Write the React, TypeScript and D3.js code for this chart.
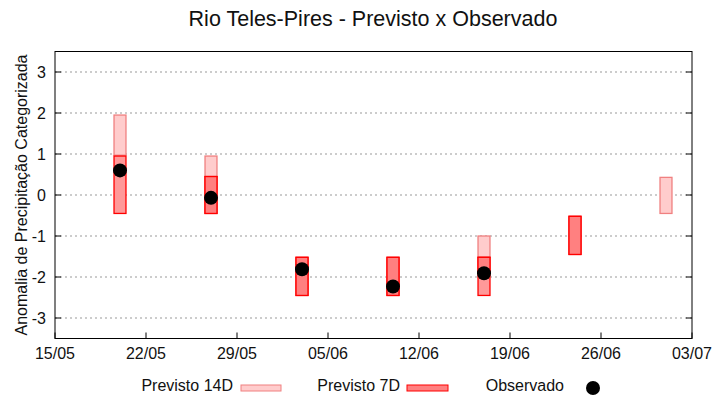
import React from "react";
import * as d3 from "d3";

const title = "Rio Teles-Pires - Previsto x Observado";
const yLabel = "Anomalia de Precipitação Categorizada";
const xTickLabels = ["15/05", "22/05", "29/05", "05/06", "12/06", "19/06", "26/06", "03/07"];
const yTicks = [-3, -2, -1, 0, 1, 2, 3];

// 14-day forecast boxes
const p14Dates = ["20/05", "27/05", "17/06", "01/07"];
const p14Lo = [0.97, 0.45, -1.52, -0.45];
const p14Hi = [1.95, 0.95, -1.0, 0.43];

// 7-day forecast boxes (first issue)
const p7Dates = ["20/05", "27/05", "03/06", "10/06", "17/06", "24/06"];
const p7Lo = [-0.45, -0.45, -2.45, -2.45, -2.45, -1.45];
const p7Hi = [0.95, 0.45, -1.52, -1.52, -1.52, -0.52];

// 7-day forecast boxes (update, overlapping)
const p7uDates = ["27/05", "03/06", "10/06", "17/06", "24/06"];
const p7uLo = [-0.45, -2.45, -2.45, -1.9, -1.45];
const p7uHi = [0.45, -1.52, -1.52, -1.52, -0.52];

// Observed
const obsDates = ["20/05", "27/05", "03/06", "10/06", "17/06"];
const obsVals = [0.6, -0.07, -1.81, -2.23, -1.91];

const W = 720;
const H = 400;
const L = 55, R = 692, T = 51.5, B = 338.5;
const FONT = "'Liberation Sans', Arial, sans-serif";

const YEAR = "2024";
const parse = (s: string) => d3.timeParse("%d/%m/%Y")(s + "/" + YEAR) as Date;

export default function App() {
  const x = d3.scaleTime().domain([parse(xTickLabels[0]), parse(xTickLabels[xTickLabels.length - 1])]).range([L, R]);
  const y = d3.scaleLinear().domain([-3.5, 3.5]).range([B, T]);
  const dayPx = x(parse("02/06")) - x(parse("01/06"));
  const bw = dayPx * 0.92;

  const box = (d: string, lo: number, hi: number, fill: string, stroke: string, key: string) => {
    const cx = x(parse(d));
    return (
      <rect key={key} x={cx - bw / 2} y={y(hi)} width={bw} height={y(lo) - y(hi)} fill={fill} stroke={stroke} strokeWidth={1.3} />
    );
  };

  return (
    <svg width={W} height={H} style={{ position: "absolute", left: 0, top: 0, background: "#fff" }} fontFamily={FONT}>
      <rect x={0} y={0} width={W} height={H} fill="#fff" />
      <text x={373} y={26} textAnchor="middle" fontSize={21.5} fill="#111">{title}</text>
      {yTicks.map((t) => (
        <g key={"yt" + t}>
          <line x1={L} x2={R} y1={y(t)} y2={y(t)} stroke="#999" strokeWidth={1} strokeDasharray="2,3" />
          <line x1={L} x2={L + 6} y1={y(t)} y2={y(t)} stroke="#000" />
          <line x1={R - 6} x2={R} y1={y(t)} y2={y(t)} stroke="#000" />
          <text x={L - 9} y={y(t) + 5.5} textAnchor="end" fontSize={16} fill="#111">{t}</text>
        </g>
      ))}
      {xTickLabels.map((lbl) => {
        const px = x(parse(lbl));
        return (
          <g key={"xt" + lbl}>
            <line x1={px} x2={px} y1={B} y2={B - 6} stroke="#000" />
            <text x={px} y={B + 20} textAnchor="middle" fontSize={16} fill="#111">{lbl}</text>
          </g>
        );
      })}
      <text transform={`translate(27,${(T + B) / 2}) rotate(-90)`} textAnchor="middle" fontSize={16} fill="#111">{yLabel}</text>
      {p14Dates.map((d, i) => box(d, p14Lo[i], p14Hi[i], "#ffcccc", "#f08080", "p14" + i))}
      {p7Dates.map((d, i) => box(d, p7Lo[i], p7Hi[i], "#ff9999", "#ff0000", "p7" + i))}
      {p7uDates.map((d, i) => box(d, p7uLo[i], p7uHi[i], "#ff8080", "#ff0000", "p7u" + i))}
      {obsDates.map((d, i) => (
        <circle key={"o" + i} cx={x(parse(d))} cy={y(obsVals[i])} r={7} fill="#000" />
      ))}
      <rect x={L} y={T} width={R - L} height={B - T} fill="none" stroke="#000" strokeWidth={1} />
      <g fontSize={16} fill="#111">
        <text x={233} y={391} textAnchor="end">Previsto 14D</text>
        <rect x={241} y={385} width={40} height={6} fill="#ffcccc" stroke="#f08080" />
        <text x={400} y={391} textAnchor="end">Previsto 7D</text>
        <rect x={407} y={385} width={41} height={6} fill="#ff8080" stroke="#ff0000" />
        <text x={564} y={391} textAnchor="end">Observado</text>
        <circle cx={593} cy={388} r={7} fill="#000" />
      </g>
    </svg>
  );
}
